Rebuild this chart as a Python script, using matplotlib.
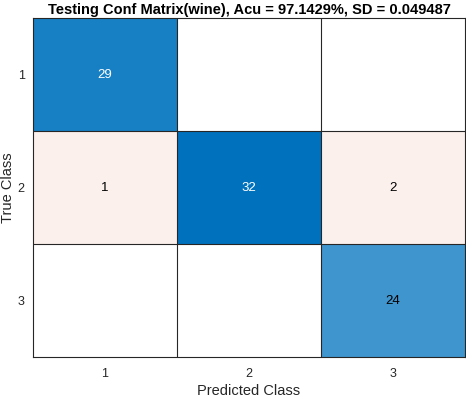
import numpy as np
import matplotlib.pyplot as plt

plt.rcParams['font.family'] = ['Liberation Sans', 'DejaVu Sans']

classes = ["1", "2", "3"]
counts = np.array([
    [29, 0, 0],
    [1, 32, 2],
    [0, 0, 24],
])
title = "Testing Conf Matrix(wine), Acu = 97.1429%, SD = 0.049487"

diag_rgb = np.array([0, 114, 189]) / 255.0
off_rgb = np.array([217, 83, 25]) / 255.0

n = len(classes)
vmax = counts.max()
img = np.ones((n, n, 3))
alpha = np.zeros((n, n))
for i in range(n):
    for j in range(n):
        v = counts[i, j]
        if v == 0:
            continue
        if i == j:
            a = v / vmax
            base = diag_rgb
        else:
            a = max(v / vmax, 0.085)
            base = off_rgb
        alpha[i, j] = a
        img[i, j] = (1 - a) + a * base

fig = plt.figure(figsize=(4.66, 4.01), dpi=100)
ax = fig.add_axes([33 / 466, 1 - 357 / 401, 432 / 466, 339 / 401])
ax.imshow(img, aspect="auto", extent=(0.5, n + 0.5, n + 0.5, 0.5),
          interpolation="nearest")

for k in range(1, n):
    ax.axhline(k + 0.5, color="#262626", lw=0.8)
    ax.axvline(k + 0.5, color="#262626", lw=0.8)

for i in range(n):
    for j in range(n):
        v = counts[i, j]
        if v == 0:
            continue
        col = "white" if alpha[i, j] > 0.8 else "black"
        ax.text(j + 1, i + 1, str(v), ha="center", va="center",
                fontsize=9.5, color=col)

ax.set_xticks(range(1, n + 1), classes)
ax.set_yticks(range(1, n + 1), classes)
ax.tick_params(length=0, labelsize=9, colors="#262626")
ax.tick_params(axis="x", pad=8)
ax.tick_params(axis="y", pad=6)
for s in ax.spines.values():
    s.set_color("#262626")
    s.set_linewidth(0.8)

ax.set_xlabel("Predicted Class", fontsize=10.5, color="#262626", labelpad=3)
ax.set_ylabel("True Class", fontsize=10.5, color="#262626")
ax.yaxis.set_label_coords(-0.042, 0.5)
ax.set_title(title, fontsize=10.5, fontweight="bold", color="black", pad=3)

fig.savefig("out.png", dpi=100)
